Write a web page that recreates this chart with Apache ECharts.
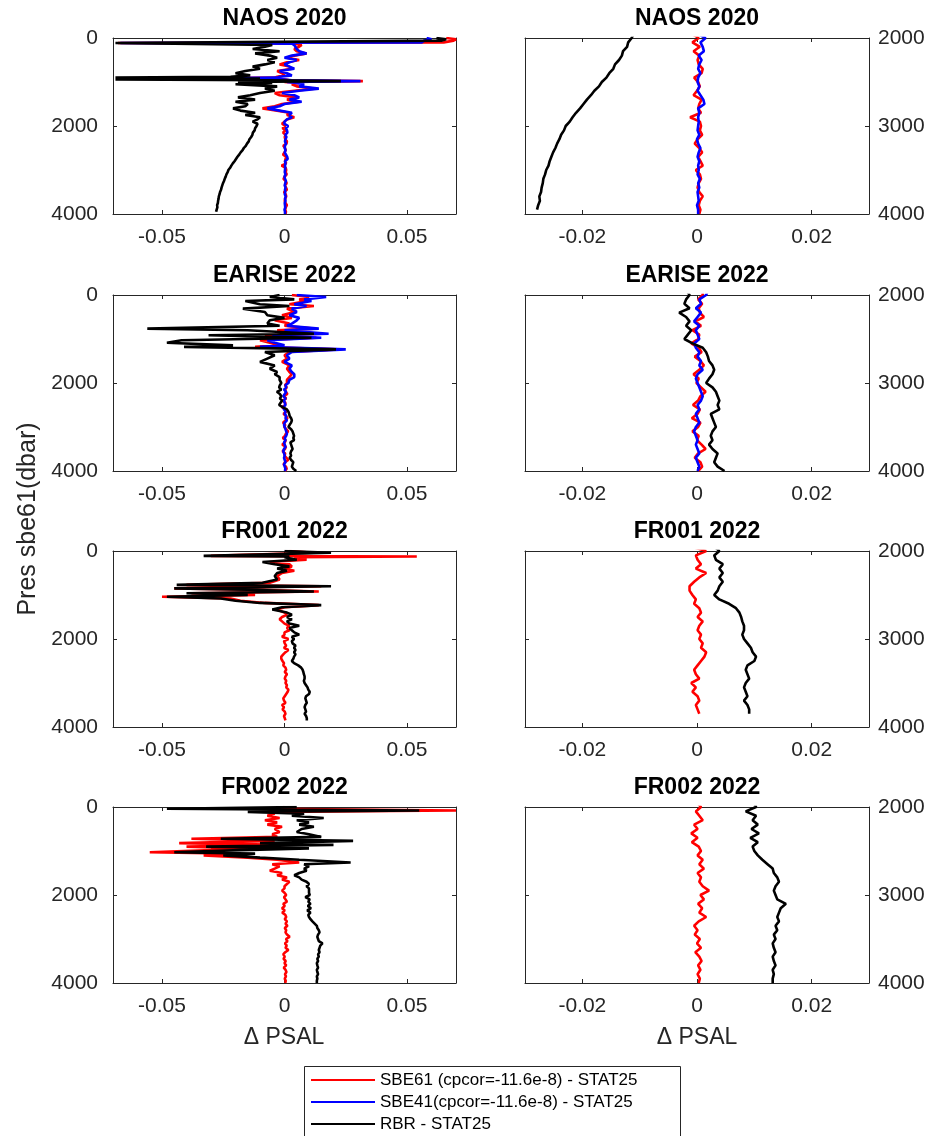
<!DOCTYPE html>
<html>
<head>
<meta charset="utf-8">
<script src="https://cdn.jsdelivr.net/npm/echarts@6/dist/echarts.min.js"></script>
<style>
html,body{margin:0;padding:0;background:#fff;}
#chart{width:930px;height:1136px;}
</style>
</head>
<body>
<div id="chart"></div>
<script>
var fontFam = "'Liberation Sans', Arial, Helvetica, sans-serif"

var name61 = 'SBE61 (cpcor=-11.6e-8) - STAT25'
var name41 = 'SBE41(cpcor=-11.6e-8) - STAT25'
var nameRbr = 'RBR - STAT25'

var titles = ['NAOS 2020', 'EARISE 2022', 'FR001 2022', 'FR002 2022']
var leftTicks = [-0.05, 0, 0.05]
var rightTicks = [-0.02, 0, 0.02]

// pressure levels below 2000 dbar, shared by all profiles
var deepPres = [2000, 2050, 2100, 2150, 2200, 2250, 2300, 2350, 2400, 2450, 2500, 2550, 2600, 2650, 2700, 2750, 2800, 2850, 2900, 2950,
    3000, 3050, 3100, 3150, 3200, 3250, 3300, 3350, 3400, 3450, 3500, 3550, 3600, 3650, 3700, 3750, 3800, 3850, 3900, 3950, 4000]

// NAOS 2020
var naosUpperPres = [0, 30, 60, 100, 115, 130, 160, 200, 250, 300, 350, 400, 450, 500, 550, 600, 650, 700, 750, 800, 850, 880, 900, 920,
    940, 960, 980, 1000, 1020, 1050, 1100, 1150, 1200, 1250, 1300, 1350, 1400, 1450, 1500, 1550, 1600, 1650, 1700, 1750, 1800, 1850, 1900, 1950]
var naosSbe61Upper = [0.066, 0.070, 0.069, 0.065, -0.068, 0.004, 0.007, 0.006, 0.004, 0.005, 0.009, 0.004, 0.001, 0.006, 0.001, -0.002,
    0.002, 0.003, -0.003, -0.001, 0.000, -0.003, -0.004, -0.040, 0.000, 0.002, 0.032, 0.000, 0.006, 0.003, 0.005, 0.012, 0.004, -0.004,
    -0.002, 0.005, 0.001, 0.006, -0.001, -0.004, -0.009, -0.003, 0.002, 0.001, 0.004, 0.001, 0.000, -0.001]
var naosSbe61Deep = [0.0003, -0.0008, 0.0005, -0.0006, 0.0004, 0.0001, 0.0003, 0.0010, 0.0008, -0.0005, 0.0002, 0.0005, 0.0000, -0.0006,
    0.0008, 0.0004, 0.0002, 0.0007, -0.0012, 0.0005, 0.0007, 0.0005, 0.0009, 0.0001, -0.0004, 0.0004, 0.0009, 0.0002, 0.0006, 0.0010,
    -0.0002, 0.0005, 0.0007, 0.0003, 0.0001, 0.0004, 0.0010, 0.0005, 0.0003, 0.0006, 0.0004]
var naosSbe41Upper = [0.058, 0.060, 0.057, 0.056, -0.067, 0.003, 0.004, 0.004, 0.005, 0.006, 0.009, 0.003, 0.000, 0.005, 0.002, 0.000,
    0.002, 0.004, -0.002, 0.001, 0.003, -0.002, -0.003, -0.038, -0.001, 0.003, 0.031, 0.001, 0.005, 0.008, 0.006, 0.014, 0.006, -0.001,
    0.004, 0.006, 0.002, 0.007, 0.000, -0.002, -0.007, -0.002, 0.003, 0.002, 0.003, 0.001, 0.000, 0.000]
var naosSbe41Deep = [0.0015, 0.0006, 0.0010, 0.0012, 0.0003, 0.0008, 0.0004, 0.0002, 0.0006, 0.0002, 0.0001, 0.0004, 0.0001, 0.0006,
    0.0011, 0.0013, 0.0002, 0.0004, 0.0002, 0.0003, 0.0002, 0.0001, 0.0004, 0.0000, 0.0002, 0.0006, 0.0003, 0.0001, 0.0004, 0.0002,
    0.0003, 0.0001, 0.0005, 0.0002, 0.0004, 0.0001, 0.0002, 0.0003, 0.0000, 0.0002, 0.0002]
var naosRbrUpper = [0.062, 0.066, 0.064, 0.064, -0.069, -0.069, -0.005, -0.008, -0.013, -0.002, -0.012, -0.006, -0.003, -0.007, -0.004,
    -0.008, -0.013, -0.010, -0.016, -0.020, -0.014, -0.022, -0.069, -0.010, -0.069, -0.006, 0.023, -0.019, -0.005, -0.020, -0.003,
    -0.008, -0.004, -0.010, -0.014, -0.019, -0.012, -0.020, -0.015, -0.016, -0.021, -0.018, -0.012, -0.016, -0.010, -0.011, -0.013, -0.011]
var naosRbrDeep = [-0.0114, -0.0120, -0.0122, -0.0129, -0.0131, -0.0136, -0.0143, -0.0146, -0.0153, -0.0158, -0.0166, -0.0171, -0.0179,
    -0.0185, -0.0192, -0.0198, -0.0204, -0.0211, -0.0217, -0.0222, -0.0229, -0.0232, -0.0237, -0.0240, -0.0244, -0.0247, -0.0251,
    -0.0254, -0.0257, -0.0259, -0.0263, -0.0265, -0.0268, -0.0269, -0.0271, -0.0272, -0.0275, -0.0274, -0.0277, -0.0279, null]

// EARISE 2022
var eariseUpperPres = [0, 45, 100, 135, 210, 250, 310, 385, 460, 520, 575, 650, 700, 765, 800, 880, 915, 970, 1030, 1085, 1145, 1180,
    1235, 1295, 1370, 1445, 1520, 1600, 1675, 1750, 1800, 1865, 1930]
var eariseSbe61Upper = [0.003, 0.010, 0.006, 0.009, 0.002, 0.012, 0.001, 0.004, -0.001, 0.003, -0.004, 0.002, 0.000, 0.012, -0.003,
    0.015, -0.008, 0.013, -0.010, -0.006, -0.002, -0.012, 0.022, 0.002, 0.000, 0.001, -0.001, 0.002, 0.001, 0.002, 0.003, 0.002, 0.001]
var eariseSbe61Deep = [0.0010, 0.0002, 0.0009, 0.0003, 0.0005, 0.0012, -0.0003, 0.0007, -0.0008, 0.0004, 0.0002, -0.0010, 0.0003,
    0.0008, -0.0004, 0.0006, 0.0012, 0.0004, -0.0006, 0.0003, -0.0001, 0.0007, 0.0015, 0.0006, 0.0002, -0.0007, 0.0005, 0.0001,
    -0.0009, 0.0006, 0.0002, -0.0008, 0.0003, 0.0000, 0.0008, 0.0015, 0.0002, -0.0004, 0.0006, 0.0009, 0.0002]
var eariseSbe41Upper = [0.005, 0.017, 0.008, 0.011, 0.004, 0.009, 0.003, 0.005, 0.002, 0.006, 0.005, 0.003, 0.001, 0.014, 0.000,
    0.018, -0.005, 0.015, -0.007, -0.004, 0.000, -0.010, 0.025, 0.003, 0.001, 0.002, 0.000, 0.003, 0.002, 0.003, 0.004, 0.004, 0.002]
var eariseSbe41Deep = [0.0016, 0.0004, 0.0007, -0.0002, 0.0007, 0.0001, -0.0005, 0.0004, -0.0002, 0.0001, 0.0004, -0.0005, -0.0002,
    0.0004, 0.0001, 0.0007, 0.0004, 0.0010, 0.0001, -0.0002, 0.0001, 0.0004, 0.0007, 0.0010, 0.0007, 0.0001, 0.0004, -0.0002, 0.0001,
    0.0004, -0.0002, -0.0005, -0.0002, 0.0001, -0.0002, 0.0001, 0.0004, -0.0002, 0.0001, 0.0004, 0.0001]
var eariseRbrUpper = [-0.002, -0.006, 0.004, -0.016, -0.010, 0.002, -0.017, -0.008, -0.007, 0.000, -0.006, -0.007, -0.002, -0.056,
    -0.015, 0.012, -0.031, 0.011, -0.042, -0.048, -0.021, -0.041, 0.021, -0.008, -0.004, -0.007, -0.010, -0.004, -0.006, -0.003,
    -0.004, -0.002, -0.002]
var eariseRbrDeep = [-0.0013, -0.0019, -0.0022, -0.0013, -0.0031, -0.0019, -0.0013, -0.0019, -0.0010, -0.0016, -0.0022, -0.0008,
    0.0010, 0.0016, 0.0019, 0.0021, 0.0027, 0.0030, 0.0027, 0.0021, 0.0016, 0.0027, 0.0033, 0.0036, 0.0039, 0.0036, 0.0039, 0.0024,
    0.0027, 0.0030, 0.0033, 0.0027, 0.0024, 0.0027, 0.0021, 0.0027, 0.0036, 0.0033, 0.0030, 0.0036, 0.0048]

// FR001 2022
var fr001UpperPres = [0, 40, 110, 125, 140, 200, 250, 300, 350, 400, 450, 500, 570, 650, 720, 770, 800, 850, 880, 920, 960, 1000,
    1040, 1080, 1130, 1180, 1230, 1280, 1330, 1400, 1450, 1500, 1550, 1600, 1650, 1700, 1750, 1800, 1850, 1900, 1950]
var fr001Sbe61Upper = [0.002, 0.012, -0.030, 0.054, 0.004, 0.009, -0.006, 0.002, 0.003, 0.000, 0.004, -0.001, -0.003, -0.002, -0.006,
    -0.040, 0.015, -0.045, -0.012, 0.014, -0.038, -0.012, -0.050, -0.022, -0.018, -0.008, 0.014, 0.000, -0.003, 0.000, 0.001, -0.001,
    -0.002, -0.001, 0.000, 0.002, 0.001, 0.002, 0.000, 0.000, -0.001]
var fr001Sbe61Deep = [0.0016, -0.0002, 0.0001, 0.0007, -0.0002, 0.0016, 0.0004, -0.0005, -0.0013, -0.0013, -0.0008, -0.0002, -0.0005,
    0.0004, 0.0007, 0.0001, 0.0010, 0.0004, 0.0001, 0.0007, 0.0004, 0.0010, 0.0007, 0.0016, 0.0013, 0.0007, 0.0001, -0.0005, -0.0002,
    0.0004, -0.0010, -0.0002, -0.0008, 0.0001, 0.0004, -0.0002, 0.0001, 0.0004, null, null, null]
var fr001RbrUpper = [0.000, 0.019, -0.033, 0.002, 0.000, 0.005, -0.009, -0.004, 0.002, -0.003, 0.001, -0.003, -0.004, -0.003, -0.009,
    -0.044, 0.019, -0.045, -0.015, 0.012, -0.040, -0.015, -0.048, -0.026, -0.020, -0.010, 0.015, -0.001, -0.005, 0.001, 0.003, 0.001,
    0.003, 0.001, 0.002, 0.006, 0.002, 0.003, 0.004, 0.006, 0.003]
var fr001RbrDeep = [0.0039, 0.0030, 0.0033, 0.0045, 0.0039, 0.0045, 0.0039, 0.0045, 0.0039, 0.0036, 0.0030, 0.0039, 0.0056, 0.0068,
    0.0074, 0.0077, 0.0079, 0.0082, 0.0082, 0.0079, 0.0082, 0.0088, 0.0094, 0.0097, 0.0103, 0.0100, 0.0088, 0.0085, 0.0088, 0.0091,
    0.0085, 0.0082, 0.0085, 0.0088, 0.0082, 0.0088, 0.0091, 0.0091, null, null, null]

// FR002 2022
var fr002UpperPres = [0, 40, 80, 110, 150, 200, 250, 300, 350, 400, 450, 500, 570, 620, 680, 720, 770, 820, 860, 900, 940, 980, 1030,
    1060, 1100, 1150, 1200, 1260, 1300, 1350, 1400, 1450, 1500, 1550, 1600, 1650, 1700, 1750, 1800, 1850, 1900, 1950]
var fr002Sbe61Upper = [0.000, -0.005, 0.070, -0.007, -0.004, -0.007, -0.002, -0.008, -0.003, -0.007, -0.001, -0.004, -0.002, -0.005,
    -0.003, -0.038, -0.004, -0.043, 0.000, -0.040, -0.015, -0.030, -0.055, -0.020, -0.033, -0.015, -0.003, 0.006, -0.005, -0.002,
    -0.004, -0.006, -0.001, -0.003, 0.001, -0.001, 0.002, 0.001, 0.000, 0.000, -0.001, 0.000]
var fr002Sbe61Deep = [0.0007, -0.0002, 0.0004, 0.0010, -0.0005, 0.0001, -0.0010, 0.0001, -0.0009, 0.0003, 0.0007, 0.0001, 0.0010,
    0.0004, 0.0012, 0.0001, 0.0007, 0.0004, 0.0010, 0.0021, 0.0006, 0.0012, 0.0002, 0.0009, 0.0004, 0.0016, 0.0003, -0.0005, 0.0001,
    -0.0004, 0.0005, 0.0000, 0.0007, -0.0003, 0.0004, 0.0008, 0.0002, 0.0006, 0.0001, 0.0005, 0.0003]
var fr002RbrUpper = [0.005, -0.048, 0.055, -0.015, 0.008, 0.003, 0.016, 0.005, 0.010, 0.006, 0.012, 0.007, 0.005, 0.010, 0.015,
    -0.026, 0.028, -0.010, 0.020, -0.032, 0.010, -0.018, -0.045, -0.012, -0.025, -0.010, 0.006, 0.027, 0.008, 0.010, 0.008, 0.009,
    0.006, 0.004, 0.006, 0.007, 0.009, 0.010, 0.009, 0.010, 0.010, 0.010]
var fr002RbrDeep = [0.0103, 0.0085, 0.0103, 0.0097, 0.0106, 0.0095, 0.0108, 0.0093, 0.0106, 0.0097, 0.0100, 0.0106, 0.0114, 0.0123,
    0.0132, 0.0134, 0.0140, 0.0143, 0.0137, 0.0134, 0.0137, 0.0140, 0.0155, 0.0146, 0.0143, 0.0140, 0.0143, 0.0137, 0.0140, 0.0134,
    0.0137, 0.0132, 0.0134, 0.0137, 0.0132, 0.0134, 0.0137, 0.0132, 0.0134, 0.0132, 0.0132]

var colors = {}
colors[name61] = '#ff0000'
colors[name41] = '#0000ff'
colors[nameRbr] = '#000000'

var profiles = [
    { pres: naosUpperPres, lines: [[name61, naosSbe61Upper, naosSbe61Deep], [name41, naosSbe41Upper, naosSbe41Deep], [nameRbr, naosRbrUpper, naosRbrDeep]] },
    { pres: eariseUpperPres, lines: [[name61, eariseSbe61Upper, eariseSbe61Deep], [name41, eariseSbe41Upper, eariseSbe41Deep], [nameRbr, eariseRbrUpper, eariseRbrDeep]] },
    { pres: fr001UpperPres, lines: [[name61, fr001Sbe61Upper, fr001Sbe61Deep], [nameRbr, fr001RbrUpper, fr001RbrDeep]] },
    { pres: fr002UpperPres, lines: [[name61, fr002Sbe61Upper, fr002Sbe61Deep], [nameRbr, fr002RbrUpper, fr002RbrDeep]] }
]

var rowTops = [38, 295, 551, 807]
var colLefts = [113, 525]
var colWidths = [343, 344]
var panelHeight = 176

var grids = [], xAxes = [], yAxes = [], series = [], graphics = []

var axisColor = '#262626'

function makeX(gi, col, isTop){
    var ticks = col == 0 ? leftTicks : rightTicks
    return {
        type: 'value', gridIndex: gi, position: isTop ? 'top' : 'bottom',
        min: col == 0 ? -0.07 : -0.03, max: col == 0 ? 0.07 : 0.03,
        axisLine: { show: true, onZero: false, lineStyle: { color: axisColor, width: 1 } },
        axisTick: { show: true, inside: true, length: 4, customValues: ticks, lineStyle: { color: axisColor } },
        axisLabel: { show: !isTop, customValues: ticks, margin: 13, fontSize: 21, color: axisColor, fontFamily: fontFam },
        splitLine: { show: false }
    }
}

function makeY(gi, col, isMirror){
    var pos
    if(col == 0) pos = isMirror ? 'right' : 'left'
    else pos = isMirror ? 'left' : 'right'
    return {
        type: 'value', gridIndex: gi, position: pos, inverse: true,
        min: col == 0 ? 0 : 2000, max: 4000, interval: col == 0 ? 2000 : 1000,
        axisLine: { show: true, onZero: false, lineStyle: { color: axisColor, width: 1 } },
        axisTick: { show: true, inside: true, length: 4, lineStyle: { color: axisColor } },
        axisLabel: {
            show: !isMirror, margin: col == 0 ? 15 : 9, fontSize: 21, color: axisColor, fontFamily: fontFam,
            formatter: function(v){ return String(v) }
        },
        splitLine: { show: false }
    }
}

for(let r = 0; r < 4; r++){
    let prof = profiles[r]
    let pres = prof.pres.concat(deepPres)
    for(let c = 0; c < 2; c++){
        let gi = r * 2 + c
        grids.push({ left: colLefts[c], top: rowTops[r], width: colWidths[c], height: panelHeight })
        xAxes.push(makeX(gi, c, false))
        xAxes.push(makeX(gi, c, true))
        yAxes.push(makeY(gi, c, false))
        yAxes.push(makeY(gi, c, true))

        for(let k = 0; k < prof.lines.length; k++){
            let ln = prof.lines[k]
            let vals = ln[1].concat(ln[2])
            let data = []
            for(let i = 0; i < pres.length; i++){
                if(vals[i] !== null && vals[i] !== undefined) data.push([vals[i], pres[i]])
            }
            series.push({
                name: ln[0], type: 'line', xAxisIndex: gi * 2, yAxisIndex: gi * 2,
                data: data, showSymbol: false, symbol: 'none', clip: true,
                color: colors[ln[0]],
                lineStyle: { color: colors[ln[0]], width: 2.6 }
            })
        }

        graphics.push({
            type: 'text', x: colLefts[c] + colWidths[c] / 2, y: rowTops[r] - 19,
            style: { text: titles[r], font: 'bold 23px ' + fontFam, fill: '#000', textAlign: 'center', textVerticalAlign: 'middle' }
        })
    }
}

// axis names
graphics.push({
    type: 'text', x: 284, y: 1038,
    style: { text: '\u0394 PSAL', font: '23px ' + fontFam, fill: axisColor, textAlign: 'center', textVerticalAlign: 'middle' }
})
graphics.push({
    type: 'text', x: 697, y: 1038,
    style: { text: '\u0394 PSAL', font: '23px ' + fontFam, fill: axisColor, textAlign: 'center', textVerticalAlign: 'middle' }
})
graphics.push({
    type: 'text', x: 28, y: 519, rotation: Math.PI / 2,
    style: { text: 'Pres sbe61(dbar)', font: '25px ' + fontFam, fill: axisColor, textAlign: 'center', textVerticalAlign: 'middle' }
})
// legend box
graphics.push({
    type: 'rect', shape: { x: 304.5, y: 1066.5, width: 376, height: 100 },
    style: { fill: 'none', stroke: axisColor, lineWidth: 1 }
})

var option = {
    animation: false,
    backgroundColor: '#ffffff',
    grid: grids,
    xAxis: xAxes,
    yAxis: yAxes,
    legend: {
        data: [name61, name41, nameRbr],
        orient: 'vertical', left: 311, top: 1069, padding: 0,
        itemWidth: 64, itemHeight: 2, itemGap: 0, icon: 'rect',
        selectedMode: false,
        textStyle: { fontSize: 17, lineHeight: 22, color: '#000', fontFamily: fontFam }
    },
    graphic: graphics,
    series: series
}

var myChart = echarts.init(document.getElementById('chart'))
myChart.setOption(option)
</script>
</body>
</html>
